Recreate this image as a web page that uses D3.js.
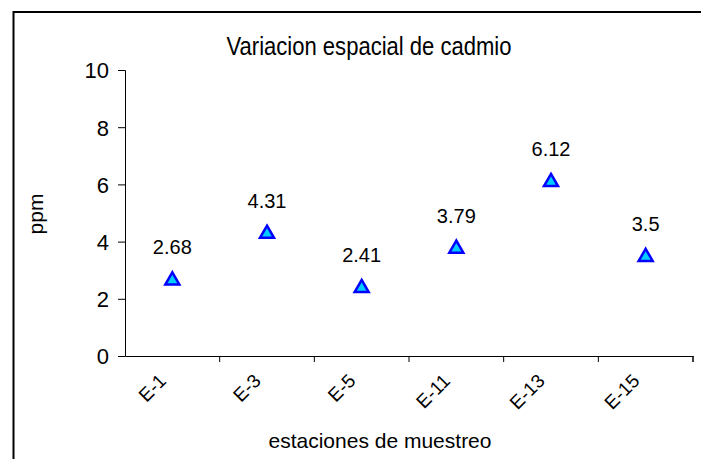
<!DOCTYPE html>
<html><head><meta charset="utf-8">
<script src="https://cdn.jsdelivr.net/npm/d3@7"></script>
<style>body{margin:0;background:#fff}svg{display:block}text{font-family:"Liberation Sans",Arial,sans-serif;fill:#000}</style>
</head><body>
<svg id="c" width="701" height="459"></svg>
<script>
const categories = ["E-1","E-3","E-5","E-11","E-13","E-15"];
const values = [2.68,4.31,2.41,3.79,6.12,3.5];
const valueLabels = ["2.68","4.31","2.41","3.79","6.12","3.5"];
const yTicks = [0,2,4,6,8,10];

const svg = d3.select("#c");
svg.append("rect").attr("x",13.5).attr("y",12).attr("width",700).attr("height",460)
  .attr("fill","none").attr("stroke","#000").attr("stroke-width",2);

const x = d3.scaleBand().domain(categories).range([125,693]);
const y = d3.scaleLinear().domain([0,10]).range([356,70]);

const yAxis = svg.append("g").attr("transform","translate(125,0)")
  .call(d3.axisLeft(y).tickValues(yTicks).tickSize(7).tickPadding(9).tickFormat(d3.format("d")));
yAxis.selectAll("text").style("font-size","22px").attr("dy","0.36em");
const xAxis = svg.append("g").attr("transform","translate(0,356)")
  .call(d3.axisBottom(x).tickSize(6).tickSizeOuter(0));
xAxis.selectAll(".tick line").attr("transform", d=>`translate(${x.bandwidth()/2},0)`);
xAxis.append("line").attr("x1",693).attr("x2",693).attr("y1",0).attr("y2",6).attr("stroke","#000");
xAxis.selectAll(".tick text").style("font-size","19px").attr("text-anchor","end")
  .attr("dy",0).attr("y",0)
  .attr("transform","translate(-5,26) rotate(-45)");
svg.selectAll(".domain, .tick line").attr("stroke","#000");

svg.append("g").selectAll("path").data(values).join("path")
  .attr("d", d3.symbol(d3.symbolTriangle, 85))
  .attr("transform",(d,i)=>`translate(${x(categories[i])+x.bandwidth()/2},${y(d)+1})`)
  .attr("fill","#00ccff").attr("stroke","#0000ff").attr("stroke-width",2.5);

svg.append("g").selectAll("text").data(values).join("text")
  .attr("x",(d,i)=>x(categories[i])+x.bandwidth()/2).attr("y",d=>y(d)-25)
  .attr("text-anchor","middle").style("font-size","20px").text((d,i)=>valueLabels[i]);

svg.append("text").attr("x",369).attr("y",55).attr("text-anchor","middle")
  .attr("textLength",285).attr("lengthAdjust","spacingAndGlyphs")
  .style("font-size","25px")
  .text("Variacion espacial de cadmio");
svg.append("text").attr("transform","translate(43,214) rotate(-90)").attr("text-anchor","middle")
  .style("font-size","21px").text("ppm");
svg.append("text").attr("x",380).attr("y",448).attr("text-anchor","middle")
  .style("font-size","21px").text("estaciones de muestreo");
</script></body></html>
